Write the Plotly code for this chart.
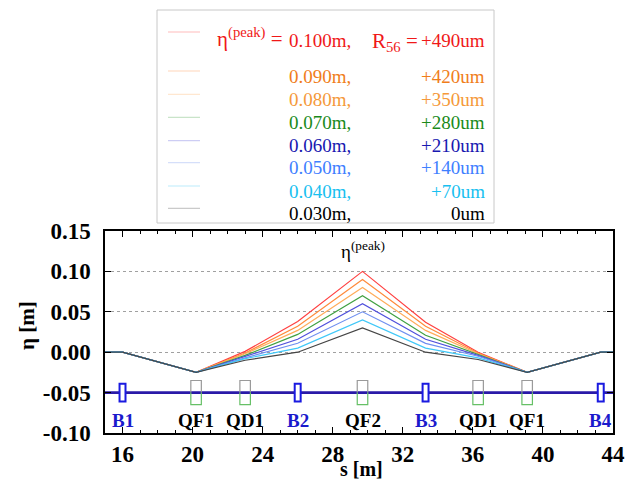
import plotly.graph_objects as go

# ---------------- data ----------------
s_nodes = [15.0, 16.0, 20.2, 23.0, 26.0, 29.7, 33.3, 36.3, 39.1, 43.3, 44.0]

eta_100 = [0, 0, -0.025, 0.001, 0.038, 0.100, 0.037, 0.000, -0.025, 0, 0]
eta_090 = [0, 0, -0.025, -0.001, 0.032, 0.090, 0.032, -0.001, -0.025, 0, 0]
eta_080 = [0, 0, -0.025, -0.002, 0.027, 0.080, 0.027, -0.002, -0.025, 0, 0]
eta_070 = [0, 0, -0.025, -0.004, 0.022, 0.070, 0.021, -0.003, -0.025, 0, 0]
eta_060 = [0, 0, -0.025, -0.005, 0.016, 0.060, 0.016, -0.004, -0.025, 0, 0]
eta_050 = [0, 0, -0.025, -0.007, 0.011, 0.050, 0.011, -0.005, -0.025, 0, 0]
eta_040 = [0, 0, -0.025, -0.008, 0.005, 0.040, 0.005, -0.007, -0.025, 0, 0]
eta_030 = [0, 0, -0.025, -0.010, 0.000, 0.030, 0.000, -0.009, -0.025, 0, 0]

series = [eta_100, eta_090, eta_080, eta_070, eta_060, eta_050, eta_040, eta_030]
peak_labels = ["0.100m,", "0.090m,", "0.080m,", "0.070m,", "0.060m,", "0.050m,", "0.040m,", "0.030m,"]
r56_labels = ["+490um", "+420um", "+350um", "+280um", "+210um", "+140um", "+70um", "0um"]

line_colors = ["#ff4040", "#ff8a3a", "#ffac5a", "#41a041", "#5050dc", "#6f8ff0", "#40c8f8", "#454545"]
text_colors = ["#f01818", "#f07d1a", "#f5993a", "#1a8a1a", "#1818b0", "#3f80ff", "#18c0f0", "#000000"]

elem_names = ["B1", "QF1", "QD1", "B2", "QF2", "B3", "QD1", "QF1", "B4"]
elem_s = [16.0, 20.2, 23.0, 26.0, 29.7, 33.3, 36.3, 39.1, 43.3]
elem_kind = ["B", "Q", "Q", "B", "Q", "B", "Q", "Q", "B"]

x_ticks = [16, 20, 24, 28, 32, 36, 40, 44]
x_ticktext = ["16", "20", "24", "28", "32", "36", "40", "44"]
y_ticks = [0.15, 0.10, 0.05, 0.0, -0.05, -0.10]
y_ticktext = ["0.15", "0.10", "0.05", "0.00", "-0.05", "-0.10"]

lattice_y = -0.05
label_y = -0.084

# ---------------- layout helpers ----------------
W, H = 625, 481
ML, MR, MT, MB = 105, 12, 231, 48
PW, PH = W - ML - MR, H - MT - MB


def px_x(px):
    return (px - ML) / PW


def px_y(py):
    return (H - MB - py) / PH


SERIF = "Times New Roman, Liberation Serif, Times, serif"

fig = go.Figure()

# lattice reference line
fig.add_trace(go.Scatter(x=[15, 44], y=[lattice_y, lattice_y], mode="lines",
                         line=dict(color="#2a1aa8", width=2.6), showlegend=False, hoverinfo="skip"))

# dispersion curves
for ys, c in zip(series, line_colors):
    fig.add_trace(go.Scatter(x=s_nodes, y=ys, mode="lines",
                             line=dict(color=c, width=1.2), showlegend=False))

shapes = []
annotations = []

# lattice elements
for name, s, k in zip(elem_names, elem_s, elem_kind):
    if k == "B":
        shapes.append(dict(type="rect", xref="x", yref="y", x0=s - 0.17, x1=s + 0.17,
                           y0=lattice_y - 0.011, y1=lattice_y + 0.011,
                           line=dict(color="#1a1ae0", width=2), fillcolor="white"))
        col = "#1a1acc"
    else:
        shapes.append(dict(type="path", xref="x", yref="y",
                           path=f"M {s-0.3},{lattice_y} L {s-0.3},{lattice_y+0.015} L {s+0.3},{lattice_y+0.015} L {s+0.3},{lattice_y}",
                           line=dict(color="#9a9a9a", width=1.2)))
        shapes.append(dict(type="path", xref="x", yref="y",
                           path=f"M {s-0.3},{lattice_y} L {s-0.3},{lattice_y-0.015} L {s+0.3},{lattice_y-0.015} L {s+0.3},{lattice_y}",
                           line=dict(color="#66c066", width=1.2)))
        col = "black"
    annotations.append(dict(x=s, y=label_y, xref="x", yref="y", text=name, showarrow=False,
                            font=dict(family=SERIF, size=19, color=col, weight="bold"),
                            xanchor="center", yanchor="middle"))

# peak annotation
annotations.append(dict(x=elem_s[4], y=0.127, xref="x", yref="y", text="η<sup>(peak)</sup>",
                        showarrow=False, font=dict(family=SERIF, size=19, color="black"),
                        xanchor="center", yanchor="middle"))

# axis titles
annotations.append(dict(x=px_x(361), y=px_y(469), xref="paper", yref="paper", text="s [m]",
                        showarrow=False, xanchor="center", yanchor="middle",
                        font=dict(family=SERIF, size=20, color="black", weight="bold")))
annotations.append(dict(x=px_x(27), y=px_y(326), xref="paper", yref="paper", text="η [m]",
                        showarrow=False, xanchor="center", yanchor="middle", textangle=-90,
                        font=dict(family=SERIF, size=21, color="black", weight="bold")))

# manual legend box
shapes.append(dict(type="rect", xref="paper", yref="paper",
                   x0=px_x(157), x1=px_x(494), y0=px_y(223), y1=px_y(10),
                   line=dict(color="#c8c8c8", width=1), fillcolor="white", layer="below"))

row_line_y = [32, 71, 94.3, 117.3, 140.7, 162.7, 186, 208.3]
for i, (pl, rl, lc, tc) in enumerate(zip(peak_labels, r56_labels, line_colors, text_colors)):
    ly = row_line_y[i]
    shapes.append(dict(type="line", xref="paper", yref="paper",
                       x0=px_x(168), x1=px_x(200), y0=px_y(ly), y1=px_y(ly),
                       line=dict(color=lc, width=1), opacity=0.35))
    ty = ly + (8 if i == 0 else 5)
    fsz = 19
    annotations.append(dict(x=px_x(287), y=px_y(ty), xref="paper", yref="paper", text=pl,
                            showarrow=False, xanchor="left", yanchor="middle",
                            font=dict(family=SERIF, size=fsz, color=tc)))
    annotations.append(dict(x=px_x(487), y=px_y(ty), xref="paper", yref="paper", text=rl,
                            showarrow=False, xanchor="right", yanchor="middle",
                            font=dict(family=SERIF, size=fsz, color=tc)))
    if i == 0:
        annotations.append(dict(x=px_x(285), y=px_y(ty - 3), xref="paper", yref="paper",
                                text="η<sup>(peak)</sup> =", showarrow=False,
                                xanchor="right", yanchor="middle",
                                font=dict(family=SERIF, size=21, color=tc)))
        annotations.append(dict(x=px_x(420), y=px_y(ty + 2), xref="paper", yref="paper",
                                text="R<sub>56</sub> =", showarrow=False,
                                xanchor="right", yanchor="middle",
                                font=dict(family=SERIF, size=21, color=tc)))

fig.update_layout(
    width=W, height=H, autosize=False,
    margin=dict(l=ML, r=MR, t=MT, b=MB),
    plot_bgcolor="white", paper_bgcolor="white",
    showlegend=False,
    shapes=shapes, annotations=annotations,
    font=dict(family=SERIF, color="black"),
)

fig.update_xaxes(
    range=[15, 44], tickvals=x_ticks, ticktext=x_ticktext,
    ticks="inside", ticklen=6, tickwidth=1, tickcolor="black",
    minor=dict(dtick=1, tick0=0, ticks="inside", ticklen=3, tickcolor="black", showgrid=False),
    showline=True, linecolor="black", linewidth=1.5, mirror="ticks",
    showgrid=False, zeroline=False, ticklabelstandoff=0, automargin=False,
    tickfont=dict(family=SERIF, size=23, color="black", weight="bold"),
)
fig.update_yaxes(
    range=[-0.10, 0.15], tickvals=y_ticks, ticktext=y_ticktext,
    ticks="inside", ticklen=6, tickwidth=1, tickcolor="black",
    showline=True, linecolor="black", linewidth=1.5, mirror="ticks",
    showgrid=True, gridcolor="#a0a0a0", griddash="dot", gridwidth=1,
    zeroline=False, ticklabelstandoff=8, automargin=False,
    tickfont=dict(family=SERIF, size=23, color="black", weight="bold"),
)

fig.write_html("out.html", config={"displayModeBar": False},
               post_script="document.body.style.margin='0';document.body.style.overflow='hidden';")
